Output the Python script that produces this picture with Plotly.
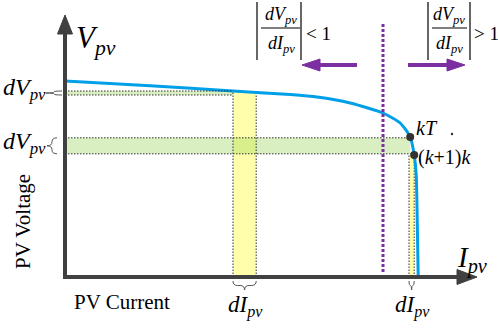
import plotly.graph_objects as go

# ---------------- data (arbitrary units: I = PV current, V = PV voltage) ----------------
curve_I = [0.0, 2.13, 4.2, 5.63, 6.3, 7.13, 7.95, 8.38, 8.63, 8.73, 8.78, 8.81, 8.83]
curve_V = [4.9, 4.78, 4.65, 4.56, 4.5, 4.35, 4.1, 3.85, 3.5, 3.05, 2.55, 1.18, 0.0]

point_labels = ["<i>kT</i>", "(<i>k</i>+1)<i>k</i>"]
point_I = [8.63, 8.73]
point_V = [3.5, 3.05]

# horizontal (dV) bands
dv_low = [4.55, 3.08]
dv_high = [4.65, 3.48]
dv_Iend = [4.2, 8.63]
# vertical (dI) bands
di_low = [4.2, 8.6]
di_high = [4.78, 8.73]
di_Vtop = [4.65, 3.05]

divider_I = 7.95          # |dV/dI| = 1 boundary
axis_I_max = 10.3
axis_V_max = 6.55

# ---------------- geometry helpers (pixel <-> data) ----------------
W, H = 498, 329
S = 40.0
OX, OY = 65.0, 277.0


def dx(px):
    return (px - OX) / S


def dy(py):
    return (OY - py) / S


def ix(i):
    return OX + i * S


def iy(v):
    return OY - v * S


def path_from_px(cmds):
    out = []
    for c in cmds:
        if isinstance(c, str):
            out.append(c)
        else:
            out.append(f"{dx(c[0]):.4f},{dy(c[1]):.4f}")
    return " ".join(out)


def brace_down(x0, x1, y0, h):
    xm = (x0 + x1) / 2
    r = min(h / 2, (x1 - x0) / 4)
    yh = y0 + h / 2
    return path_from_px(["M", (x0, y0), "Q", (x0, yh), (x0 + r, yh), "L", (xm - r, yh),
                         "Q", (xm, yh), (xm, y0 + h), "Q", (xm, yh), (xm + r, yh),
                         "L", (x1 - r, yh), "Q", (x1, yh), (x1, y0)])


def brace_left(xr, y0, y1, w):
    ym = (y0 + y1) / 2
    r = min(w / 2, (y1 - y0) / 4)
    xh = xr - w / 2
    return path_from_px(["M", (xr, y0), "Q", (xh, y0), (xh, y0 + r), "L", (xh, ym - r),
                         "Q", (xh, ym), (xr - w, ym), "Q", (xh, ym), (xh, ym + r),
                         "L", (xh, y1 - r), "Q", (xh, y1), (xr, y1)])


def tri(tip, base_c, half, horizontal):
    if horizontal:
        pts = [tip, (base_c, tip[1] - half), (base_c, tip[1] + half)]
    else:
        pts = [tip, (tip[0] - half, base_c), (tip[0] + half, base_c)]
    return path_from_px(["M", pts[0], "L", pts[1], "L", pts[2], "Z"])


FONT = "Liberation Serif"
AX = "#404040"
PURPLE = "#7B2FA0"
BLUE = "#00A0E9"
DOT = "#333333"
GREEN = "rgba(146,208,80,0.35)"
YELLOW = "rgba(255,255,0,0.33)"

shapes = []

# bands
for lo, hi, top in zip(di_low, di_high, di_Vtop):
    shapes.append(dict(type="rect", xref="x", yref="y", x0=lo, x1=hi, y0=0, y1=top,
                       fillcolor=YELLOW, line=dict(width=0), layer="below"))
for lo, hi, iend in zip(dv_low, dv_high, dv_Iend):
    shapes.append(dict(type="rect", xref="x", yref="y", x0=0, x1=iend, y0=lo, y1=hi,
                       fillcolor=GREEN, line=dict(width=0), layer="below"))

dotline = dict(color=DOT, width=1, dash="1.5px,1.5px")
for lo, hi, top in zip(di_low, di_high, di_Vtop):
    for xv in (lo, hi):
        shapes.append(dict(type="line", xref="x", yref="y", x0=xv, x1=xv, y0=0, y1=top,
                           line=dotline, layer="below"))
shapes.append(dict(type="line", xref="x", yref="y", x0=0, x1=dv_Iend[0], y0=dv_low[0], y1=dv_low[0], line=dotline))
shapes.append(dict(type="line", xref="x", yref="y", x0=0, x1=dv_Iend[0], y0=dv_high[0], y1=dv_high[0], line=dotline))
shapes.append(dict(type="line", xref="x", yref="y", x0=0, x1=point_I[0], y0=dv_high[1], y1=dv_high[1], line=dotline))
shapes.append(dict(type="line", xref="x", yref="y", x0=0, x1=point_I[1], y0=dv_low[1], y1=dv_low[1], line=dotline))

# divider line
shapes.append(dict(type="line", xref="x", yref="y", x0=divider_I, x1=divider_I, y0=dy(272), y1=dy(23),
                   line=dict(color=PURPLE, width=3, dash="3px,2px")))

# axes
shapes.append(dict(type="path", xref="x", yref="y",
                   path=path_from_px(["M", (OX, 33), "L", (OX, OY), "L", (ix(axis_I_max) - 20, OY)]),
                   line=dict(color=AX, width=4)))
shapes.append(dict(type="path", xref="x", yref="y",
                   path=tri((OX, iy(axis_V_max)), iy(axis_V_max) + 19, 7.5, False),
                   fillcolor=AX, line=dict(color=AX, width=1)))
shapes.append(dict(type="path", xref="x", yref="y",
                   path=tri((ix(axis_I_max), OY), ix(axis_I_max) - 20, 7.5, True),
                   fillcolor=AX, line=dict(color=AX, width=1)))

# purple arrows
shapes.append(dict(type="line", xref="x", yref="y", x0=dx(357), x1=dx(318), y0=dy(65), y1=dy(65),
                   line=dict(color=PURPLE, width=4)))
shapes.append(dict(type="path", xref="x", yref="y", path=tri((302, 65), 320, 6, True),
                   fillcolor=PURPLE, line=dict(color=PURPLE, width=1)))
shapes.append(dict(type="line", xref="x", yref="y", x0=dx(408), x1=dx(448), y0=dy(65), y1=dy(65),
                   line=dict(color=PURPLE, width=4)))
shapes.append(dict(type="path", xref="x", yref="y", path=tri((465, 65), 447, 6, True),
                   fillcolor=PURPLE, line=dict(color=PURPLE, width=1)))

# braces
BR = dict(color="#555555", width=1)
shapes.append(dict(type="path", xref="x", yref="y", path=brace_left(62, iy(dv_high[0]), iy(dv_low[0]), 16), line=BR))
shapes.append(dict(type="path", xref="x", yref="y", path=brace_left(57, iy(dv_high[1]), iy(dv_low[1]), 10), line=BR))
for lo, hi in zip(di_low, di_high):
    shapes.append(dict(type="path", xref="x", yref="y", path=brace_down(ix(lo), ix(hi), 281, 9), line=BR))

# fraction bars and lines
for xl, xr, xnl, xnr in ((257, 301, 261, 300), (428, 470, 432, 467)):
    for xb in (xl, xr):
        shapes.append(dict(type="line", xref="x", yref="y", x0=dx(xb), x1=dx(xb), y0=dy(2), y1=dy(60),
                           line=dict(color="black", width=1.2)))
    shapes.append(dict(type="line", xref="x", yref="y", x0=dx(xnl), x1=dx(xnr), y0=dy(28), y1=dy(28),
                       line=dict(color="black", width=1)))

fig = go.Figure()
fig.add_trace(go.Scatter(x=curve_I, y=curve_V, mode="lines",
                         line=dict(color=BLUE, width=3, shape="spline", smoothing=0.6),
                         hoverinfo="skip", showlegend=False))
fig.add_trace(go.Scatter(x=point_I, y=point_V, mode="markers",
                         marker=dict(color="#333333", size=8), hoverinfo="skip", showlegend=False))
fig.add_trace(go.Scatter(x=[dx(452)], y=[dy(134)], mode="markers",
                         marker=dict(color="#333333", size=2.5), hoverinfo="skip", showlegend=False))

ann = []


def txt(text, px, py, size, xanchor="center", yanchor="middle", angle=0):
    ann.append(dict(text=text, x=dx(px), y=dy(py), xref="x", yref="y", showarrow=False,
                    xanchor=xanchor, yanchor=yanchor, textangle=angle,
                    font=dict(family=FONT, size=size, color="black")))


def sub(a, b):
    return f"<i>{a}</i><sub><i>{b}</i></sub>"


txt(sub("V", "pv"), 74, 40, 31, xanchor="left")
txt(sub("dV", "pv"), 1, 89, 24, xanchor="left")
txt(sub("dV", "pv"), 1, 143, 24, xanchor="left")
txt(sub("I", "pv"), 455, 259, 29, xanchor="left")
txt(sub("dI", "pv"), 226, 306, 23, xanchor="left")
txt(sub("dI", "pv"), 393, 306, 23, xanchor="left")
txt("PV Voltage", 23, 222, 21, angle=-90)
txt("PV Current", 122, 302, 21)
txt(point_labels[0], 414, 128, 20, xanchor="left")
txt(point_labels[1], 416, 157, 20, xanchor="left")
for cx, rel, rx in ((281, "&lt; 1", 304), (449, "&gt; 1", 472)):
    txt(sub("dV", "pv"), cx, 15, 18)
    txt(sub("dI", "pv"), cx, 44, 18)
    txt(rel, rx, 33, 19, xanchor="left")

fig.update_layout(
    width=W, height=H, autosize=False,
    margin=dict(l=0, r=0, t=0, b=0),
    paper_bgcolor="white", plot_bgcolor="white",
    xaxis=dict(range=[dx(0), dx(W)], visible=False, fixedrange=True),
    yaxis=dict(range=[dy(H), dy(0)], visible=False, fixedrange=True),
    shapes=shapes, annotations=ann, showlegend=False,
)
fig.write_html("out.html", config=dict(displayModeBar=False),
               post_script="document.body.style.margin='0';document.body.style.overflow='hidden';")
